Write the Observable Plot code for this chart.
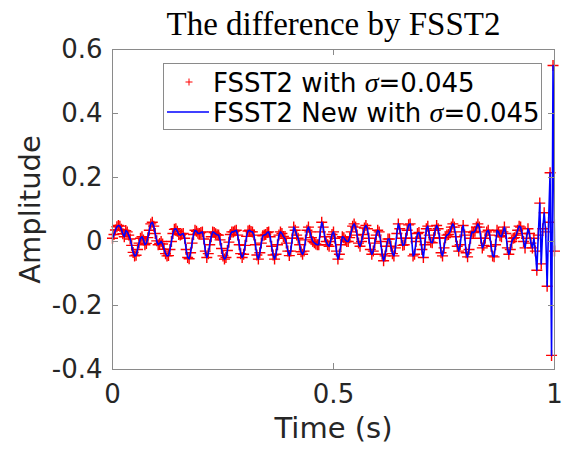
<!DOCTYPE html>
<html><head><meta charset="utf-8">
<script src="https://cdn.jsdelivr.net/npm/d3@7"></script>
<script src="https://cdn.jsdelivr.net/npm/@observablehq/plot@0.6"></script>
<style>
body{margin:0;background:#fff}
#wrap{position:relative;width:563px;height:450px}
#legend{position:absolute;left:163px;top:63px}
</style>
</head><body><div id="wrap"></div>
<script>
// Amplitude samples (uniform time grid from 0 to 1 s, 301 samples)
const amplitude = [
  0.01, 0.022, 0.036, 0.046, 0.05, 0.048, 0.038, 0.024, 0.015, 0.034,
  0.03, 0.02, 0.008, -0.012, -0.034, -0.045, -0.043, -0.025, -0.005, 0.01,
  0.015, 0.005, -0.01, -0.006, 0.012, 0.035, 0.055, 0.06, 0.048, 0.025,
  0.002, -0.01, -0.006, 0.0, -0.008, -0.024, -0.038, -0.045, -0.044, -0.025,
  0.0, 0.025, 0.038, 0.04, 0.032, 0.022, 0.02, 0.023, 0.025, 0.01,
  -0.025, -0.05, -0.054, -0.035, -0.005, 0.022, 0.035, 0.032, 0.026, 0.025,
  0.028, 0.03, 0.008, -0.03, -0.05, -0.038, -0.01, 0.015, 0.03, 0.028,
  0.024, 0.021, 0.02, 0.005, -0.022, -0.045, -0.055, -0.05, -0.028, -0.002,
  0.022, 0.03, 0.03, 0.033, 0.035, 0.02, -0.01, -0.038, -0.05, -0.04,
  -0.012, 0.016, 0.033, 0.035, 0.031, 0.03, 0.02, -0.01, -0.042, -0.055,
  -0.035, -0.005, 0.018, 0.02, 0.022, 0.028, 0.03, 0.015, -0.015, -0.042,
  -0.055, -0.04, -0.01, 0.02, 0.03, 0.025, 0.016, 0.01, -0.005, -0.03,
  -0.044, -0.03, 0.01, 0.045, 0.035, 0.02, 0.01, -0.01, -0.032, -0.04,
  -0.03, 0.005, 0.035, 0.045, 0.03, 0.012, 0.0, -0.004, -0.008, -0.01,
  -0.01, 0.03, 0.06, 0.045, 0.015, 0.0, -0.01, -0.015, 0.0, 0.022,
  0.03, 0.01, -0.03, -0.055, -0.04, -0.01, 0.015, 0.012, 0.005, 0.0,
  0.0, 0.012, 0.03, 0.048, 0.055, 0.045, 0.02, -0.005, -0.015, 0.0,
  0.022, 0.042, 0.05, 0.04, 0.01, -0.025, -0.04, -0.03, -0.005, 0.02,
  0.035, 0.03, 0.0, -0.04, -0.06, -0.045, -0.015, 0.008, 0.008, -0.015,
  -0.038, -0.045, -0.02, 0.025, 0.055, 0.04, 0.01, -0.012, -0.01, 0.01,
  0.035, 0.052, 0.055, 0.01, -0.045, -0.04, 0.0, 0.025, 0.028, 0.01,
  -0.025, -0.05, -0.01, 0.04, 0.048, 0.02, -0.002, -0.004, 0.012, 0.035,
  0.05, 0.04, 0.01, -0.035, -0.045, -0.02, 0.012, 0.02, 0.022, 0.03,
  0.045, 0.055, 0.045, 0.015, -0.015, -0.03, -0.01, 0.03, 0.05, 0.02,
  -0.035, -0.048, -0.025, 0.01, 0.03, 0.028, 0.032, 0.045, 0.055, 0.045,
  0.01, -0.02, -0.012, 0.01, 0.03, 0.035, 0.02, -0.015, -0.045, -0.048,
  -0.01, 0.035, 0.03, 0.018, 0.015, 0.03, 0.045, 0.025, -0.02, -0.04,
  -0.025, 0.0, 0.01, 0.012, 0.02, 0.035, 0.048, 0.045, 0.025, 0.0,
  -0.02, 0.01, 0.04, 0.025, -0.005, -0.02, 0.01, -0.03, -0.09, 0.02,
  0.12, -0.07, 0.04, 0.09, 0.03, -0.14, 0.06, 0.215, -0.356, 0.55,
  -0.03
];
const xTicks = [0, 0.5, 1];
const xTickLabels = ["0", "0.5", "1"];
const yTicks = [-0.4, -0.2, 0, 0.2, 0.4, 0.6];
const yTickLabels = ["-0.4", "-0.2", "0", "0.2", "0.4", "0.6"];
const titleText = ["The difference by FSST2"];
const xLabel = ["Time (s)"];
const yLabel = ["Amplitude"];
const seriesNames = ["FSST2 with ", "FSST2 New with "];
const sigmaValue = "=0.045";

const data = amplitude.map((v, i) => ({t: i / (amplitude.length - 1), v}));

const plusSymbol = {
  draw(ctx, size) {
    const r = Math.sqrt(size / Math.PI);
    ctx.moveTo(-r, 0); ctx.lineTo(r, 0);
    ctx.moveTo(0, -r); ctx.lineTo(0, r);
  }
};

const gray = "#8a8a8a";
const ink = "#262626";
const W = 563, H = 450, mL = 112, mR = 9, mT = 49, mB = 81;
const innerW = W - mL - mR, innerH = H - mT - mB, tick = 6;

const chart = Plot.plot({
  width: W,
  height: H,
  marginLeft: mL,
  marginRight: mR,
  marginTop: mT,
  marginBottom: mB,
  style: {fontFamily: "'DejaVu Sans', sans-serif", fontSize: "26px", color: ink, background: "#fff"},
  x: {domain: [0, 1]},
  y: {domain: [-0.4, 0.6]},
  marks: [
    Plot.dot(data, {x: "t", y: "v", symbol: plusSymbol, r: 5.5, stroke: "#ff0000", fill: "none", strokeWidth: 1.4}),
    Plot.line(data, {x: "t", y: "v", stroke: "#0000ff", strokeWidth: 1.6}),
    Plot.frame({stroke: gray}),
    // inward tick marks on all four sides
    Plot.tickX(xTicks, {x: d => d, stroke: gray, insetTop: innerH - tick}),
    Plot.tickX(xTicks, {x: d => d, stroke: gray, insetBottom: innerH - tick}),
    Plot.tickY(yTicks, {y: d => d, stroke: gray, insetRight: innerW - tick}),
    Plot.tickY(yTicks, {y: d => d, stroke: gray, insetLeft: innerW - tick}),
    Plot.axisX(xTicks, {anchor: "bottom", tickSize: 0, tickPadding: 15, tickFormat: d => xTickLabels[xTicks.indexOf(d)], label: null, fontSize: 26, fill: ink}),
    Plot.axisY(yTicks, {anchor: "left", tickSize: 0, tickPadding: 10, tickFormat: d => yTickLabels[yTicks.indexOf(d)], label: null, fontSize: 26, fill: ink}),
    Plot.text(yLabel, {frameAnchor: "left", dx: -82, rotate: -90, textAnchor: "middle", fontSize: 29, fill: ink}),
    Plot.text(xLabel, {frameAnchor: "bottom", dy: 68, textAnchor: "middle", fontSize: 29, fill: ink}),
    Plot.text(titleText, {frameAnchor: "top", dy: -38, fontSize: 33, fontFamily: "'Liberation Serif', serif", fill: "#000"})
  ]
});
const wrap = document.getElementById("wrap");
wrap.appendChild(chart);

// Legend overlay
const ns = "http://www.w3.org/2000/svg";
const leg = document.createElementNS(ns, "svg");
leg.setAttribute("id", "legend");
leg.setAttribute("width", 379);
leg.setAttribute("height", 67);
leg.innerHTML = `
  <rect x="0.5" y="0.5" width="378" height="66" fill="#fff" stroke="${gray}" stroke-width="1"/>
  <path d="M22.5,19 h7 M26,15.5 v7" stroke="#ff0000" stroke-width="1" fill="none"/>
  <line x1="4" x2="46" y1="49" y2="49" stroke="#0000ff" stroke-width="1.5"/>
  <text x="50" y="29" font-family="DejaVu Sans" font-size="26" fill="#000">${seriesNames[0]}<tspan font-family="Liberation Serif" font-style="italic" font-size="28">σ</tspan>${sigmaValue}</text>
  <text x="50" y="59" font-family="DejaVu Sans" font-size="26" fill="#000">${seriesNames[1]}<tspan font-family="Liberation Serif" font-style="italic" font-size="28">σ</tspan>${sigmaValue}</text>
`;
wrap.appendChild(leg);
</script>
</body></html>
